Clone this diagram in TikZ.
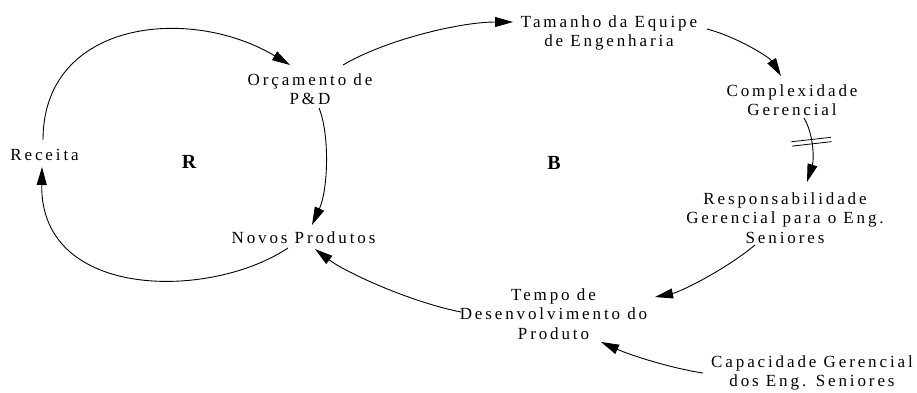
\documentclass[tikz,border=0pt]{standalone}
\usepackage{fontspec}
\setmainfont{Liberation Serif}
\newfontfamily\labfont[LetterSpace=17]{Liberation Serif}
\usetikzlibrary{arrows.meta,decorations.markings}
\tikzset{
  lab/.style={font=\labfont\fontsize{17}{19.3}\selectfont, align=center, inner sep=0pt},
  loopname/.style={font=\bfseries\fontsize{20}{22}\selectfont, inner sep=0pt},
  arr/.style={line width=0.9pt, -{Triangle[length=18pt,width=10pt]}},
  delaymark/.style={postaction={decorate, decoration={markings,
    mark=at position #1 with {\draw[-, line width=0.8pt] (-2.2pt,-20pt) -- (-2.2pt,20pt);
                               \draw[-, line width=0.8pt] (2.2pt,-20pt) -- (2.2pt,20pt);}}}}
}
\begin{document}
\begin{tikzpicture}[x=1pt,y=-1pt]
\useasboundingbox (0,0) rectangle (917,392);
\node[lab] (rec) at (44.5,155) {Receita};
\node[lab] (orc) at (310,89) {Orçamento de\\P\&D};
\node[lab] (tam) at (609,33) {Tamanho da Equipe\\de Engenharia};
\node[lab] (com) at (792,100) {Complexidade\\Gerencial};
\node[lab] (res) at (785,218) {Responsabilidade\\Gerencial para o Eng.\\Seniores};
\node[lab] (nov) at (303.5,238) {Novos Produtos};
\node[lab] (tem) at (553.5,314) {Tempo de\\Desenvolvimento do\\Produto};
\node[lab] (cap) at (812,373) {Capacidade Gerencial\\dos Eng. Seniores};
\node[loopname] (R) at (189,162) {R};
\node[loopname] (B) at (554,163) {B};

\draw[arr] ([shift={(-1.5,-15)}]rec.center) .. controls +(0,-120) and +(-100,-60) .. ([shift={(-20,-24)}]orc.center);
\draw[arr] ([shift={(33,-24)}]orc.center) .. controls +(42,-25) and +(-53,0) .. ([shift={(-96,-11)}]tam.center);
\draw[arr] ([shift={(98,-4)}]tam.center) .. controls +(33,9) and +(-11,-18) .. ([shift={(-11,-24)}]com.center);
\draw[arr, delaymark=0.38] ([shift={(12,18)}]com.center) .. controls +(10,17) and +(7,-22) .. ([shift={(22,-36)}]res.center);
\draw[arr] ([shift={(-30,27)}]res.center) .. controls +(-30,25) and +(25,-5) .. ([shift={(101.5,-17)}]tem.center);
\draw[arr] ([shift={(-109,0)}]cap.center) .. controls +(-33,-5) and +(29,13) .. ([shift={(47.5,28)}]tem.center);
\draw[arr] ([shift={(-92.5,-2)}]tem.center) .. controls +(-51,-10) and +(30,23) .. ([shift={(11.5,11)}]nov.center);
\draw[arr] ([shift={(-15.5,10)}]nov.center) .. controls +(-78,52) and +(-2,133) .. ([shift={(-2.5,12)}]rec.center);
\draw[arr] ([shift={(9,19)}]orc.center) .. controls +(11,27) and +(16,-35) .. ([shift={(8.5,-13)}]nov.center);
\end{tikzpicture}
\end{document}
